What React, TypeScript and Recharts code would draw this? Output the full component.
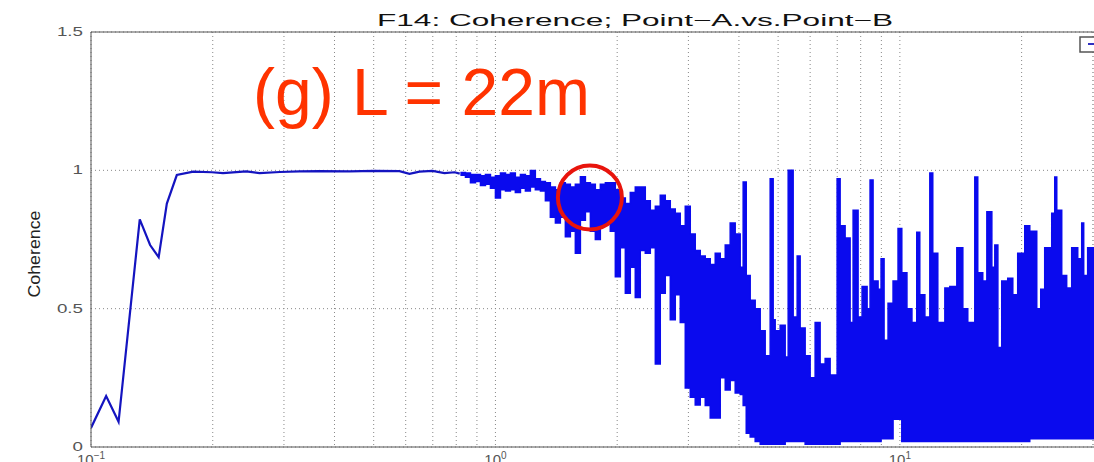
import { Area, CartesianGrid, ComposedChart, Line, ReferenceDot, ReferenceLine, XAxis, YAxis } from "recharts";

// low-frequency part: a single clean line
const lowFreq = [0.1, 0.109, 0.117, 0.132, 0.14, 0.147, 0.154, 0.163, 0.179, 0.199, 0.212, 0.242, 0.261, 0.293, 0.328, 0.367, 0.436, 0.503, 0.579, 0.613, 0.649, 0.699, 0.748, 0.793, 0.816];
const lowCoh = [0.069, 0.184, 0.091, 0.823, 0.73, 0.686, 0.88, 0.983, 0.995, 0.993, 0.99, 0.996, 0.99, 0.994, 0.996, 0.997, 0.996, 0.998, 0.997, 0.987, 0.995, 0.998, 0.99, 0.993, 0.988];

// dense part: min / max of the coherence trace per frequency bin
const bandFreq = [
  0.8195, 0.8432, 0.8675, 0.8925, 0.9183, 0.9447, 0.972, 1.0, 1.029, 1.059, 1.089, 1.12, 1.153, 1.186, 1.22, 1.255, 1.292, 1.329, 1.367, 1.407,
  1.447, 1.489, 1.532, 1.576, 1.622, 1.669, 1.717, 1.766, 1.817, 1.87, 1.923, 1.979, 2.036, 2.095, 2.155, 2.217, 2.281, 2.347, 2.415, 2.485,
  2.556, 2.63, 2.706, 2.784, 2.864, 2.947, 3.032, 3.119, 3.209, 3.302, 3.397, 3.495, 3.596, 3.7, 3.806, 3.916, 4.029, 4.098, 4.17, 4.265,
  4.388, 4.515, 4.645, 4.779, 4.861, 4.917, 5.059, 5.205, 5.295, 5.447, 5.573, 5.668, 5.832, 6.0, 6.173, 6.351, 6.535, 6.723, 6.996, 7.117,
  7.322, 7.533, 7.663, 7.883, 8.065, 8.298, 8.44, 8.585, 8.833, 8.985, 9.14, 9.35, 9.62, 9.897, 10.11, 10.41, 10.71, 11.01, 11.2, 11.53,
  11.86, 12.06, 12.41, 12.92, 13.29, 13.83, 14.31, 14.72, 15.32, 15.58, 16.03, 16.41, 16.88, 17.17, 17.47, 17.86, 18.48, 19.02, 19.56, 20.36,
  20.95, 21.8, 22.3, 22.81, 23.74, 24.15, 24.43, 25.13, 25.85, 26.6, 27.53, 28.16, 28.48, 29.13, 30.2,
];
const bandLow = [
  0.982, 0.975, 0.955, 0.96, 0.945, 0.95, 0.935, 0.9, 0.93, 0.925, 0.93, 0.92, 0.935, 0.925, 0.94, 0.93, 0.925, 0.89, 0.83, 0.81,
  0.83, 0.76, 0.78, 0.7, 0.82, 0.85, 0.78, 0.75, 0.8, 0.81, 0.78, 0.615, 0.72, 0.556, 0.65, 0.54, 0.71, 0.7, 0.72, 0.3,
  0.556, 0.62, 0.46, 0.55, 0.45, 0.213, 0.18, 0.152, 0.18, 0.15, 0.105, 0.105, 0.25, 0.206, 0.24, 0.195, 0.19, 0.15, 0.05, 0.036,
  0.02, 0.01, 0.01, 0.01, 0.01, 0.01, 0.01, 0.02, 0.02, 0.02, 0.02, 0.02, 0.01, 0.01, 0.01, 0.01, 0.01, 0.01, 0.01, 0.02,
  0.02, 0.02, 0.02, 0.02, 0.02, 0.02, 0.02, 0.02, 0.02, 0.03, 0.03, 0.03, 0.1, 0.1, 0.02, 0.02, 0.02, 0.02, 0.02, 0.02,
  0.02, 0.02, 0.02, 0.02, 0.02, 0.02, 0.02, 0.02, 0.02, 0.02, 0.02, 0.02, 0.02, 0.02, 0.02, 0.02, 0.02, 0.02, 0.02, 0.02,
  0.03, 0.03, 0.03, 0.03, 0.03, 0.03, 0.03, 0.03, 0.03, 0.03, 0.03, 0.03, 0.03, 0.03, 0.03,
];
const bandHigh = [
  0.992, 0.99, 0.985, 0.985, 0.98, 0.985, 0.975, 0.98, 0.99, 0.985, 0.99, 0.975, 0.985, 0.98, 0.999, 0.97, 0.96, 0.955, 0.94, 0.93,
  0.955, 0.95, 0.94, 0.95, 0.977, 0.955, 0.95, 0.93, 0.95, 0.955, 0.955, 0.93, 0.9, 0.88, 0.92, 0.94, 0.94, 0.89, 0.856, 0.87,
  0.91, 0.89, 0.86, 0.845, 0.8, 0.87, 0.77, 0.71, 0.69, 0.68, 0.66, 0.7, 0.68, 0.73, 0.81, 0.77, 0.65, 0.958, 0.62, 0.53,
  0.5, 0.42, 0.33, 0.97, 0.46, 0.42, 0.44, 0.325, 1.0, 0.47, 0.69, 0.43, 0.33, 0.25, 0.45, 0.3, 0.32, 0.26, 0.97, 0.8,
  0.755, 0.45, 0.856, 0.47, 0.58, 0.5, 0.965, 0.6, 0.57, 0.68, 0.386, 0.52, 0.6, 0.79, 0.63, 0.5, 0.45, 0.776, 0.55, 0.47,
  0.99, 0.7, 0.45, 0.575, 0.58, 0.72, 0.5, 0.45, 0.976, 0.63, 0.6, 0.85, 0.65, 0.73, 0.36, 0.6, 0.61, 0.55, 0.7, 0.8,
  0.78, 0.5, 0.57, 0.72, 0.845, 0.976, 0.856, 0.62, 0.575, 0.72, 0.68, 0.81, 0.62, 0.72, 0.72,
];

const xGrid = [0.1, 0.2, 0.3, 0.4, 0.5, 0.6, 0.7, 0.8, 0.9, 1, 2, 3, 4, 5, 6, 7, 8, 9, 10, 20, 30];
const xMajor = [0.1, 1, 10];
const xExponent = ["\u22121", "0", "1"];
const yTicks = [0, 0.5, 1, 1.5];

const rows = [
  ...lowFreq.map((f, i) => ({ f, c: lowCoh[i] })),
  ...bandFreq.map((f, i) => ({ f, band: [bandLow[i], bandHigh[i]] })),
];

const font = "'Liberation Sans', Arial, Helvetica, sans-serif";

function XTick(props: any) {
  const { x, payload } = props;
  const k = xMajor.indexOf(payload.value);
  if (k < 0) return <g />;
  return (
    <text x={x} y={465} textAnchor="middle" fontFamily={font} fontSize={15} fill="#555">
      <tspan>10</tspan>
      <tspan dy={-6} fontSize={10}>{xExponent[k]}</tspan>
    </text>
  );
}

function YTick(props: any) {
  const { y, payload } = props;
  return (
    <g transform={`translate(83 ${y + 4}) scale(1.5 1)`}>
      <text x={0} y={0} textAnchor="end" fontFamily={font} fontSize={12.5} fill="#555">
        {String(payload.value)}
      </text>
    </g>
  );
}

export default function App() {
  return (
    <div style={{ position: "fixed", left: 0, top: 0, width: 1094, height: 462, overflow: "hidden", background: "#fff" }}>
      <ComposedChart width={1094} height={462} data={rows} margin={{ top: 32, right: 0, bottom: 0, left: 0 }}>
        <CartesianGrid stroke="#888" strokeDasharray="1 3" />
        <XAxis
          dataKey="f"
          type="number"
          scale="log"
          domain={[0.1, 30.2]}
          allowDataOverflow
          ticks={xGrid}
          interval={0}
          height={15}
          tickLine={false}
          axisLine={{ stroke: "#555" }}
          tick={<XTick />}
        />
        <YAxis
          type="number"
          domain={[0, 1.5]}
          ticks={yTicks}
          width={91}
          tickLine={false}
          axisLine={{ stroke: "#555" }}
          tick={<YTick />}
        />
        <ReferenceLine y={1.5} stroke="#555" />
        <Area
          dataKey="band"
          type="stepAfter"
          stroke="#0a0aee"
          strokeWidth={1.5}
          fill="#0a0aee"
          fillOpacity={1}
          isAnimationActive={false}
          dot={false}
          activeDot={false}
        />
        <Line
          dataKey="c"
          type="linear"
          stroke="#1414c0"
          strokeWidth={2.2}
          dot={false}
          activeDot={false}
          isAnimationActive={false}
        />
        <ReferenceDot x={1.712} y={0.902} r={32} fill="none" stroke="#e8140c" strokeWidth={4} />
      </ComposedChart>
      <svg width={1094} height={462} style={{ position: "absolute", left: 0, top: 0, pointerEvents: "none" }}>
        <text x={377} y={26} fontFamily={font} fontSize={16.5} fill="#111" textLength={516} lengthAdjust="spacingAndGlyphs">
          F14: Coherence; Point−A.vs.Point−B
        </text>
        <text x={253} y={115} fontFamily={font} fontSize={66} fill="#ff3300">
          (g) L = 22m
        </text>
        <text
          x={40}
          y={254}
          transform="rotate(-90 40 254)"
          textAnchor="middle"
          fontFamily={font}
          fontSize={17}
          fill="#222"
          textLength={87}
          lengthAdjust="spacingAndGlyphs"
        >
          Coherence
        </text>
        <rect x={1080} y={37} width={30} height={15} fill="#fff" stroke="#555" strokeWidth={1.5} />
        <line x1={1088} y1={44} x2={1094} y2={44} stroke="#3030c0" strokeWidth={2} />
      </svg>
    </div>
  );
}
